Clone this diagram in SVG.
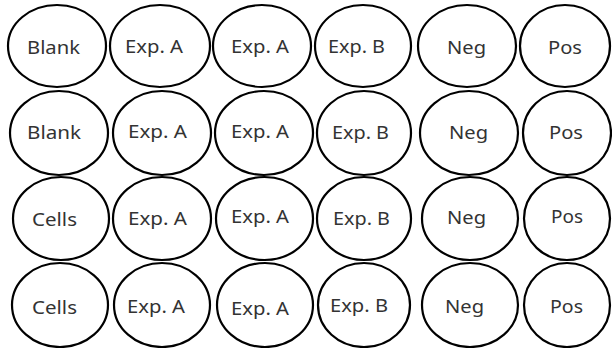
<svg xmlns="http://www.w3.org/2000/svg" width="612" height="348" viewBox="0 0 612 348">
<style>
.w{fill:#fff;stroke:#000;stroke-width:2.2}
.t{font-family:"Noto Sans","Open Sans",sans-serif;font-size:18px;fill:#333}
</style>
<rect width="612" height="348" fill="#fff"/>
<g id="r1c1"><ellipse class="w" cx="57" cy="46" rx="49" ry="41"/><text class="t" x="27" y="54" textLength="53" lengthAdjust="spacingAndGlyphs">Blank</text></g>
<g id="r1c2"><ellipse class="w" cx="160" cy="46" rx="50" ry="41"/><text class="t" x="125" y="53" textLength="58" lengthAdjust="spacingAndGlyphs">Exp. A</text></g>
<g id="r1c3"><ellipse class="w" cx="262" cy="46" rx="49" ry="41"/><text class="t" x="231" y="53" textLength="58" lengthAdjust="spacingAndGlyphs">Exp. A</text></g>
<g id="r1c4"><ellipse class="w" cx="363" cy="46" rx="48" ry="41"/><text class="t" x="328" y="53" textLength="57" lengthAdjust="spacingAndGlyphs">Exp. B</text></g>
<g id="r1c5"><ellipse class="w" cx="467" cy="46" rx="49" ry="41"/><text class="t" x="447" y="54" textLength="39" lengthAdjust="spacingAndGlyphs">Neg</text></g>
<g id="r1c6"><ellipse class="w" cx="565" cy="46" rx="45" ry="41"/><text class="t" x="548" y="54" textLength="34" lengthAdjust="spacingAndGlyphs">Pos</text></g>

<g id="r2c1"><ellipse class="w" cx="59" cy="133" rx="49" ry="42"/><text class="t" x="27" y="139" textLength="54" lengthAdjust="spacingAndGlyphs">Blank</text></g>
<g id="r2c2"><ellipse class="w" cx="162" cy="133" rx="49" ry="42"/><text class="t" x="128" y="138" textLength="59" lengthAdjust="spacingAndGlyphs">Exp. A</text></g>
<g id="r2c3"><ellipse class="w" cx="264" cy="133" rx="49" ry="42"/><text class="t" x="231" y="138" textLength="58" lengthAdjust="spacingAndGlyphs">Exp. A</text></g>
<g id="r2c4"><ellipse class="w" cx="364" cy="133" rx="47" ry="42"/><text class="t" x="332" y="139" textLength="57" lengthAdjust="spacingAndGlyphs">Exp. B</text></g>
<g id="r2c5"><ellipse class="w" cx="469" cy="133" rx="49" ry="42"/><text class="t" x="449" y="139" textLength="39" lengthAdjust="spacingAndGlyphs">Neg</text></g>
<g id="r2c6"><ellipse class="w" cx="567" cy="133" rx="44" ry="42"/><text class="t" x="549" y="139" textLength="34" lengthAdjust="spacingAndGlyphs">Pos</text></g>

<g id="r3c1"><ellipse class="w" cx="61" cy="218.5" rx="48" ry="41.5"/><text class="t" x="32" y="226" textLength="45" lengthAdjust="spacingAndGlyphs">Cells</text></g>
<g id="r3c2"><ellipse class="w" cx="162" cy="218.5" rx="49" ry="41.5"/><text class="t" x="128" y="225" textLength="59" lengthAdjust="spacingAndGlyphs">Exp. A</text></g>
<g id="r3c3"><ellipse class="w" cx="264.5" cy="218.5" rx="48.5" ry="41.5"/><text class="t" x="231" y="223" textLength="58" lengthAdjust="spacingAndGlyphs">Exp. A</text></g>
<g id="r3c4"><ellipse class="w" cx="364" cy="218.5" rx="47" ry="41.5"/><text class="t" x="333" y="225" textLength="57" lengthAdjust="spacingAndGlyphs">Exp. B</text></g>
<g id="r3c5"><ellipse class="w" cx="470" cy="218.5" rx="48" ry="41.5"/><text class="t" x="447" y="224" textLength="39" lengthAdjust="spacingAndGlyphs">Neg</text></g>
<g id="r3c6"><ellipse class="w" cx="567" cy="218.5" rx="43" ry="41.5"/><text class="t" x="551" y="223" textLength="32" lengthAdjust="spacingAndGlyphs">Pos</text></g>

<g id="r4c1"><ellipse class="w" cx="60" cy="305" rx="48" ry="42"/><text class="t" x="32" y="314" textLength="45" lengthAdjust="spacingAndGlyphs">Cells</text></g>
<g id="r4c2"><ellipse class="w" cx="162" cy="305" rx="48" ry="42"/><text class="t" x="127" y="313" textLength="58" lengthAdjust="spacingAndGlyphs">Exp. A</text></g>
<g id="r4c3"><ellipse class="w" cx="265" cy="305" rx="48" ry="42"/><text class="t" x="231" y="315" textLength="58" lengthAdjust="spacingAndGlyphs">Exp. A</text></g>
<g id="r4c4"><ellipse class="w" cx="364" cy="305" rx="46" ry="42"/><text class="t" x="330" y="312" textLength="58" lengthAdjust="spacingAndGlyphs">Exp. B</text></g>
<g id="r4c5"><ellipse class="w" cx="470" cy="305" rx="48" ry="42"/><text class="t" x="445" y="313" textLength="39" lengthAdjust="spacingAndGlyphs">Neg</text></g>
<g id="r4c6"><ellipse class="w" cx="567" cy="305" rx="43" ry="42"/><text class="t" x="550" y="313" textLength="33" lengthAdjust="spacingAndGlyphs">Pos</text></g>
<g id="connectors"/>
</svg>
